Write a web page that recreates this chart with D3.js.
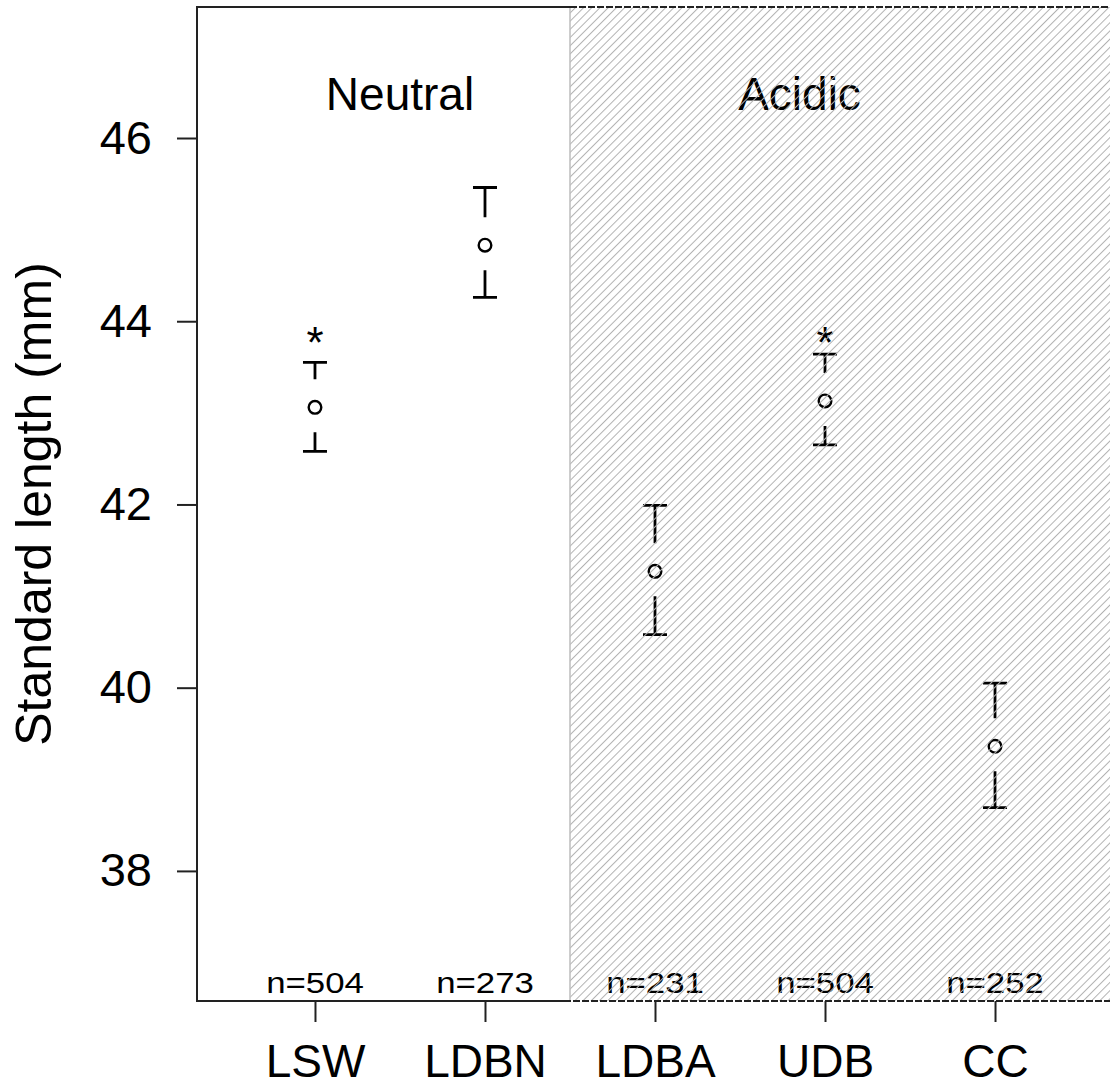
<!DOCTYPE html>
<html>
<head>
<meta charset="utf-8">
<script src="https://cdn.jsdelivr.net/npm/d3@7"></script>
<style>
  body { margin: 0; background: #fff; }
  text { font-family: Arial, "Liberation Sans", sans-serif; fill: #000; }
</style>
</head>
<body>
<svg id="chart"></svg>
<script>
const sites = ['LSW', 'LDBN', 'LDBA', 'UDB', 'CC'];
const means = [43.06, 44.83, 41.27, 43.13, 39.36];
const upper = [43.55, 45.46, 41.99, 43.64, 40.05];
const lower = [42.58, 44.26, 40.58, 42.65, 38.69];
const nCounts = [504, 273, 231, 504, 252];
const stars = [43.87, null, null, 43.87, null];
const groups = ['Neutral', 'Acidic'];
const groupPos = [1.5, 3.85];   // 1 = first site
const acidicFrom = 2.5;
const yTicks = [38, 40, 42, 44, 46];

const width = 1110, height = 1085;
const plotL = 197, plotR = 1113, plotT = 7, plotB = 1001;

const svg = d3.select('#chart')
  .attr('width', width)
  .attr('height', height);

const x = d3.scalePoint().domain(sites).range([plotL, plotR]).padding(0.694);
const xl = d3.scaleLinear().domain([1, 5]).range([x('LSW'), x('CC')]);
const y = d3.scaleLinear().domain([36.58, 47.43]).range([plotB, plotT]);

const data = sites.map((s, i) => ({
  site: s, mean: means[i], hi: upper[i], lo: lower[i], n: nCounts[i], star: stars[i]
}));

const defs = svg.append('defs');
const pat = defs.append('pattern')
  .attr('id', 'hatch')
  .attr('patternUnits', 'userSpaceOnUse')
  .attr('width', 5.8).attr('height', 5.8)
  .attr('patternTransform', 'rotate(45)');
pat.append('line')
  .attr('x1', 0.5).attr('y1', 0).attr('x2', 0.5).attr('y2', 5.8)
  .attr('stroke', '#b2b2b2').attr('stroke-width', 1);

const xa = xl(acidicFrom);

// axes
svg.append('g')
  .attr('transform', `translate(${plotL},0)`)
  .call(d3.axisLeft(y).tickValues(yTicks).tickSize(20).tickPadding(25))
  .call(g => g.select('.domain').remove())
  .call(g => g.selectAll('line').attr('stroke', '#222').attr('stroke-width', 2))
  .call(g => g.selectAll('text').attr('font-size', 47).attr('font-family', 'Arial, "Liberation Sans", sans-serif'));

svg.append('g')
  .attr('transform', `translate(0,${plotB})`)
  .call(d3.axisBottom(x).tickSize(21).tickPadding(22))
  .call(g => g.select('.domain').remove())
  .call(g => g.selectAll('line').attr('stroke', '#222').attr('stroke-width', 2))
  .call(g => g.selectAll('text').attr('font-size', 46).attr('font-family', 'Arial, "Liberation Sans", sans-serif'));

svg.append('text')
  .attr('transform', `translate(51,504) rotate(-90)`)
  .attr('text-anchor', 'middle')
  .attr('font-size', 50)
  .text('Standard length (mm)');

// group labels
svg.selectAll('.grp')
  .data(groups)
  .enter().append('text')
  .attr('class', 'grp')
  .attr('x', (d, i) => xl(groupPos[i]))
  .attr('y', 110)
  .attr('text-anchor', 'middle')
  .attr('font-size', 46)
  .text(d => d);

// n labels (slightly wide lettering, as in the original)
svg.selectAll('.nlab')
  .data(data)
  .enter().append('text')
  .attr('class', 'nlab')
  .attr('transform', d => `translate(${x(d.site)},993) scale(1.18,1)`)
  .attr('text-anchor', 'middle')
  .attr('font-size', 29.5)
  .text(d => 'n=' + d.n);

// CI marks
const capW = 12, gapUp = 28, gapDn = 25;
const marks = svg.append('g')
  .attr('stroke', '#000')
  .attr('stroke-width', 2.8)
  .attr('fill', 'none');

marks.selectAll('.cap-hi')
  .data(data).enter().append('path')
  .attr('d', d => `M${x(d.site) - capW},${y(d.hi)}H${x(d.site) + capW}M${x(d.site)},${y(d.hi)}V${y(d.mean) - gapUp}`);

marks.selectAll('.cap-lo')
  .data(data).enter().append('path')
  .attr('d', d => `M${x(d.site) - capW},${y(d.lo)}H${x(d.site) + capW}M${x(d.site)},${y(d.lo)}V${y(d.mean) + gapDn}`);

marks.selectAll('circle')
  .data(data).enter().append('circle')
  .attr('cx', d => x(d.site))
  .attr('cy', d => y(d.mean))
  .attr('r', 6.3)
  .attr('stroke-width', 2.4);

svg.selectAll('.star')
  .data(data.filter(d => d.star != null))
  .enter().append('text')
  .attr('class', 'star')
  .attr('x', d => x(d.site))
  .attr('y', d => y(d.star) + 25)
  .attr('text-anchor', 'middle')
  .attr('font-size', 44)
  .text('*');

// hatched acidic region over everything
svg.append('rect')
  .attr('x', xa).attr('y', plotT)
  .attr('width', plotR - xa).attr('height', plotB - plotT)
  .attr('fill', 'url(#hatch)');
svg.append('line')
  .attr('x1', xa).attr('x2', xa).attr('y1', plotT).attr('y2', plotB)
  .attr('stroke', '#bdbdbd').attr('stroke-width', 1.5);

// frame
const frame = svg.append('g').attr('stroke', '#222').attr('stroke-width', 2).attr('fill', 'none');
frame.append('path').attr('d', `M${xa},${plotT}H${plotL}V${plotB}H${xa}`);
frame.append('path')
  .attr('d', `M${xa},${plotT}H${plotR}V${plotB}H${xa}`)
  .attr('stroke-dasharray', '7,2');
</script>
</body>
</html>
